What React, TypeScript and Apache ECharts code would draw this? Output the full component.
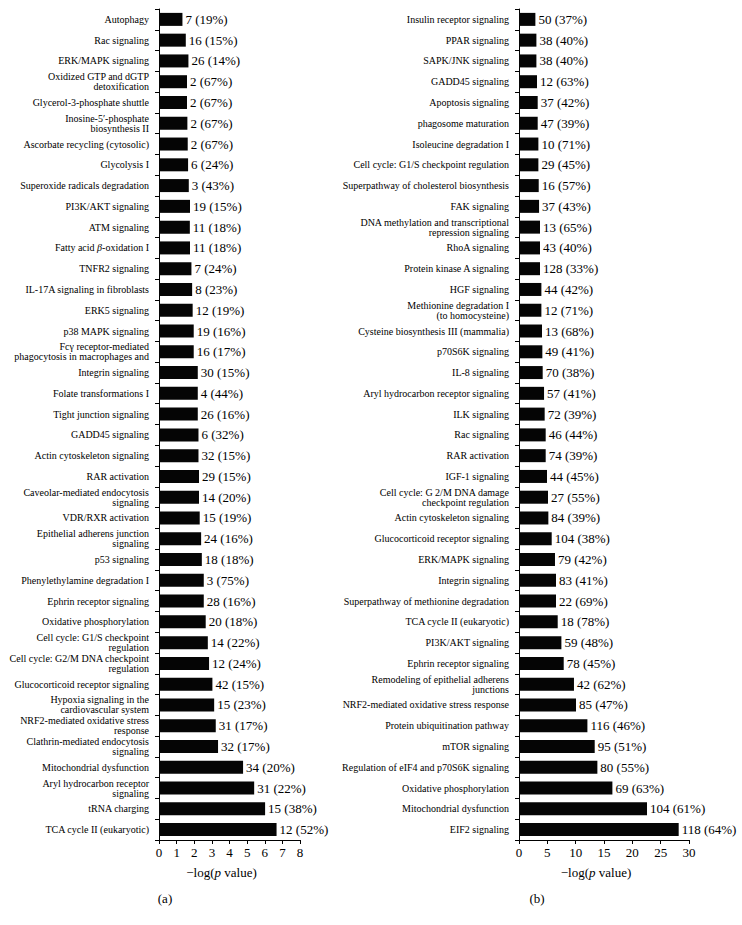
import React, { useEffect, useRef } from "react";
import * as echarts from "echarts";

const leftNames = [
  "Autophagy",
  "Rac signaling",
  "ERK/MAPK signaling",
  "Oxidized GTP and dGTP\ndetoxification",
  "Glycerol-3-phosphate shuttle",
  "Inosine-5\u2032-phosphate\nbiosynthesis II",
  "Ascorbate recycling (cytosolic)",
  "Glycolysis I",
  "Superoxide radicals degradation",
  "PI3K/AKT signaling",
  "ATM signaling",
  "Fatty acid {i|\u03b2}-oxidation I",
  "TNFR2 signaling",
  "IL-17A signaling in fibroblasts",
  "ERK5 signaling",
  "p38 MAPK signaling",
  "Fc\u03b3 receptor-mediated\nphagocytosis in macrophages and",
  "Integrin signaling",
  "Folate transformations I",
  "Tight junction signaling",
  "GADD45 signaling",
  "Actin cytoskeleton signaling",
  "RAR activation",
  "Caveolar-mediated endocytosis\nsignaling",
  "VDR/RXR activation",
  "Epithelial adherens junction\nsignaling",
  "p53 signaling",
  "Phenylethylamine degradation I",
  "Ephrin receptor signaling",
  "Oxidative phosphorylation",
  "Cell cycle: G1/S checkpoint\nregulation",
  "Cell cycle: G2/M DNA checkpoint\nregulation",
  "Glucocorticoid receptor signaling",
  "Hypoxia signaling in the\ncardiovascular system",
  "NRF2-mediated oxidative stress\nresponse",
  "Clathrin-mediated endocytosis\nsignaling",
  "Mitochondrial dysfunction",
  "Aryl hydrocarbon receptor\nsignaling",
  "tRNA charging",
  "TCA cycle II (eukaryotic)",
];
const leftValues = [
  1.33, 1.52, 1.67, 1.59, 1.59, 1.61, 1.63, 1.65, 1.69, 1.76, 1.75, 1.76, 1.84,
  1.88, 1.91, 1.97, 1.97, 2.2, 2.2, 2.2, 2.24, 2.24, 2.27, 2.27, 2.31, 2.39,
  2.43, 2.54, 2.54, 2.65, 2.77, 2.84, 3.03, 3.13, 3.22, 3.35, 4.77, 5.4, 6.02,
  6.67,
];
const leftCounts = [
  7, 16, 26, 2, 2, 2, 2, 6, 3, 19, 11, 11, 7, 8, 12, 19, 16, 30, 4, 26, 6, 32,
  29, 14, 15, 24, 18, 3, 28, 20, 14, 12, 42, 15, 31, 32, 34, 31, 15, 12,
];
const leftPercents = [
  19, 15, 14, 67, 67, 67, 67, 24, 43, 15, 18, 18, 24, 23, 19, 16, 17, 15, 44,
  16, 32, 15, 15, 20, 19, 16, 18, 75, 16, 18, 22, 24, 15, 23, 17, 17, 20, 22,
  38, 52,
];

const rightNames = [
  "Insulin receptor signaling",
  "PPAR signaling",
  "SAPK/JNK signaling",
  "GADD45 signaling",
  "Apoptosis signaling",
  "phagosome maturation",
  "Isoleucine degradation I",
  "Cell cycle: G1/S checkpoint regulation",
  "Superpathway of cholesterol biosynthesis",
  "FAK signaling",
  "DNA methylation and transcriptional\nrepression signaling",
  "RhoA signaling",
  "Protein kinase A signaling",
  "HGF signaling",
  "Methionine degradation I\n(to homocysteine)",
  "Cysteine biosynthesis III (mammalia)",
  "p70S6K signaling",
  "IL-8 signaling",
  "Aryl hydrocarbon receptor signaling",
  "ILK signaling",
  "Rac signaling",
  "RAR activation",
  "IGF-1 signaling",
  "Cell cycle: G 2/M DNA damage\ncheckpoint regulation",
  "Actin cytoskeleton signaling",
  "Glucocorticoid receptor signaling",
  "ERK/MAPK signaling",
  "Integrin signaling",
  "Superpathway of methionine degradation",
  "TCA cycle II (eukaryotic)",
  "PI3K/AKT signaling",
  "Ephrin receptor signaling",
  "Remodeling of epithelial adherens\njunctions",
  "NRF2-mediated oxidative stress response",
  "Protein ubiquitination pathway",
  "mTOR signaling",
  "Regulation of eIF4 and p70S6K signaling",
  "Oxidative phosphorylation",
  "Mitochondrial dysfunction",
  "EIF2 signaling",
];
const rightValues = [
  2.89, 3.07, 3.07, 3.18, 3.3, 3.3, 3.42, 3.42, 3.48, 3.54, 3.71, 3.71, 3.71,
  3.95, 3.95, 4.06, 4.12, 4.18, 4.42, 4.53, 4.71, 4.71, 4.94, 5.12, 5.18, 5.77,
  6.35, 6.53, 6.53, 6.83, 7.48, 7.89, 9.7, 10.06, 12.07, 13.36, 13.83, 16.48,
  22.59, 28.18,
];
const rightCounts = [
  50, 38, 38, 12, 37, 47, 10, 29, 16, 37, 13, 43, 128, 44, 12, 13, 49, 70, 57,
  72, 46, 74, 44, 27, 84, 104, 79, 83, 22, 18, 59, 78, 42, 85, 116, 95, 80, 69,
  104, 118,
];
const rightPercents = [
  37, 40, 40, 63, 42, 39, 71, 45, 57, 43, 65, 40, 33, 42, 71, 68, 41, 38, 41,
  39, 44, 39, 45, 55, 39, 38, 42, 41, 69, 78, 48, 45, 62, 47, 46, 51, 55, 63,
  61, 64,
];

const FONT = "'Liberation Serif', 'Times New Roman', serif";

export default function App() {
  const ref = useRef<HTMLDivElement>(null);
  useEffect(() => {
    document.body.style.margin = "0";
    if (!ref.current) return;
    const chart = echarts.init(ref.current, null, { renderer: "svg" });

    const xAxisBase = (idx: number, max: number, interval: number) => ({
      type: "value",
      gridIndex: idx,
      min: 0,
      max,
      interval,
      name: "\u2212log({i|p} value)",
      nameLocation: "middle",
      nameGap: 26,
      nameTextStyle: {
        fontFamily: FONT,
        fontSize: 13,
        color: "#000",
        padding: [0, 16, 0, 0],
        rich: {
          i: { fontFamily: FONT, fontSize: 13, fontStyle: "italic", color: "#000" },
        },
      },
      axisLine: { show: true, lineStyle: { color: "#000", width: 1 } },
      axisTick: { show: true, length: 4, lineStyle: { color: "#000" } },
      splitLine: { show: false },
      axisLabel: { fontFamily: FONT, fontSize: 13, color: "#000", margin: 6 },
    });

    const yAxisBase = (idx: number, names: string[]) => ({
      type: "category",
      gridIndex: idx,
      inverse: true,
      data: names,
      axisLine: { show: true, lineStyle: { color: "#000", width: 1 } },
      axisTick: { show: true, length: 4, lineStyle: { color: "#000" } },
      splitLine: { show: false },
      axisLabel: {
        fontFamily: FONT,
        fontSize: 10,
        lineHeight: 10,
        color: "#000",
        margin: 10,
        interval: 0,
        align: "right",
        rich: {
          i: {
            fontFamily: FONT,
            fontSize: 10,
            lineHeight: 10,
            fontStyle: "italic",
            color: "#000",
          },
        },
      },
    });

    const seriesBase = (
      idx: number,
      values: number[],
      counts: number[],
      percents: number[]
    ) => ({
      type: "bar",
      xAxisIndex: idx,
      yAxisIndex: idx,
      data: values,
      barWidth: 13,
      itemStyle: { color: "#050505" },
      label: {
        show: true,
        position: "right",
        distance: 3,
        fontFamily: FONT,
        fontSize: 13,
        color: "#000",
        formatter: (p: any) =>
          `${counts[p.dataIndex]} (${percents[p.dataIndex]}%)`,
      },
    });

    chart.setOption({
      animation: false,
      backgroundColor: "#fff",
      grid: [
        { left: 159, top: 9, width: 141, height: 831, containLabel: false },
        { left: 519, top: 9, width: 170, height: 831, containLabel: false },
      ],
      xAxis: [xAxisBase(0, 8, 1), xAxisBase(1, 30, 5)],
      yAxis: [yAxisBase(0, leftNames), yAxisBase(1, rightNames)],
      series: [
        seriesBase(0, leftValues, leftCounts, leftPercents),
        seriesBase(1, rightValues, rightCounts, rightPercents),
      ],
      graphic: [
        {
          type: "text",
          x: 165,
          y: 898,
          style: {
            text: "(a)",
            font: `13px ${FONT}`,
            fill: "#000",
            align: "center",
            verticalAlign: "middle",
          },
        },
        {
          type: "text",
          x: 537,
          y: 898,
          style: {
            text: "(b)",
            font: `13px ${FONT}`,
            fill: "#000",
            align: "center",
            verticalAlign: "middle",
          },
        },
      ],
    });
    return () => chart.dispose();
  }, []);
  return <div ref={ref} style={{ width: 742, height: 925 }} />;
}
